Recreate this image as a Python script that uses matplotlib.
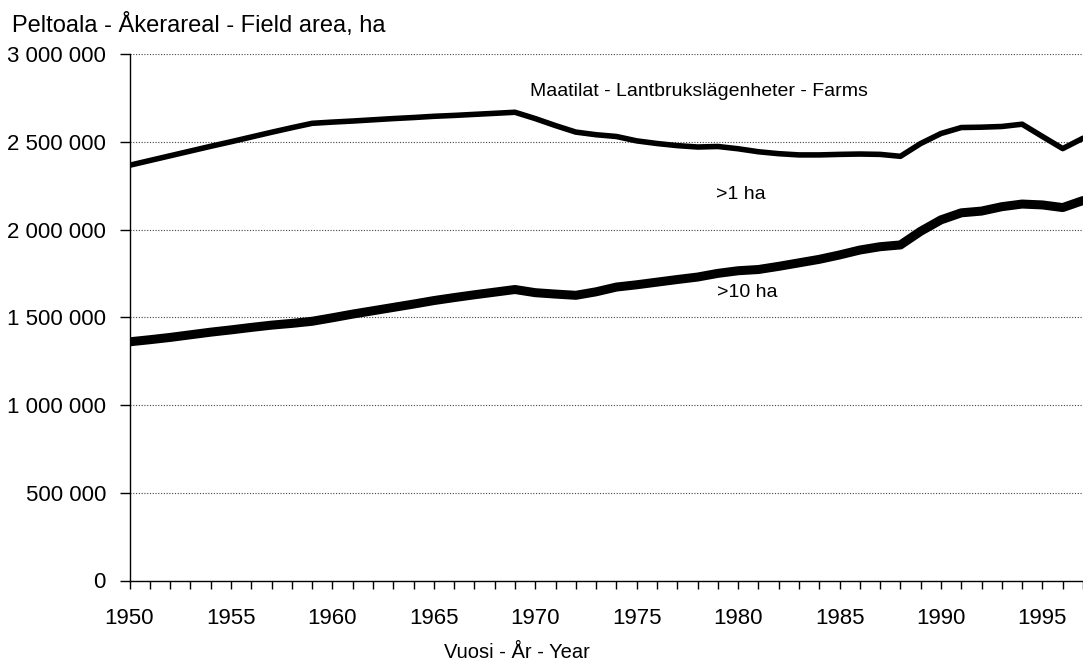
import matplotlib
matplotlib.use("Agg")
import matplotlib.pyplot as plt
from matplotlib.ticker import FuncFormatter, MultipleLocator
from matplotlib import font_manager

years = list(range(1950, 1998))

farms_1ha = [2366000, 2393000, 2420000, 2447000, 2474000, 2500000, 2527000, 2554000, 2580000, 2605000,
             2612000, 2618000, 2625000, 2632000, 2638000, 2645000, 2650000, 2656000, 2662000, 2668000,
             2632000, 2592000, 2555000, 2540000, 2530000, 2505000, 2490000, 2478000, 2470000, 2473000,
             2460000, 2443000, 2432000, 2425000, 2425000, 2428000, 2430000, 2428000, 2417000, 2490000,
             2547000, 2581000, 2583000, 2587000, 2600000, 2530000, 2461000, 2520000]

farms_10ha = [1360000, 1372000, 1385000, 1400000, 1415000, 1428000, 1442000, 1455000, 1465000, 1477000,
              1497000, 1518000, 1537000, 1556000, 1575000, 1595000, 1612000, 1628000, 1643000, 1658000,
              1640000, 1632000, 1625000, 1645000, 1672000, 1685000, 1700000, 1715000, 1729000, 1750000,
              1765000, 1772000, 1790000, 1810000, 1830000, 1855000, 1883000, 1902000, 1912000, 1990000,
              2055000, 2095000, 2105000, 2130000, 2145000, 2140000, 2125000, 2165000]

title_text = "Peltoala - Åkerareal - Field area, ha"
xlabel_text = "Vuosi - År - Year"
farms_label = "Maatilat - Lantbrukslägenheter - Farms"
label_1ha = ">1 ha"
label_10ha = ">10 ha"
xtick_years = [1950, 1955, 1960, 1965, 1970, 1975, 1980, 1985, 1990, 1995]

avail = {f.name for f in font_manager.fontManager.ttflist}
narrow = "Liberation Sans Narrow" in avail
fam = "Liberation Sans Narrow" if narrow else "Liberation Sans"
plt.rcParams['font.family'] = [fam, 'DejaVu Sans']
k = 1.15 if narrow else 1.0

W, H = 1083, 665
fig = plt.figure(figsize=(W / 100, H / 100), dpi=100)
left, right, top, bottom = 129.5, 1083, 54, 580.5
ax = fig.add_axes([left / W, 1 - bottom / H, (right - left) / W, (bottom - top) / H])

ax.plot(years, farms_1ha, color='black', lw=4.0, solid_joinstyle='round', solid_capstyle='round', zorder=3)
ax.plot(years, farms_10ha, color='black', lw=6.5, solid_joinstyle='round', solid_capstyle='round', zorder=3)

ax.set_xlim(1950, 1950 + (right - left) / 20.35)
ax.set_ylim(0, 3000000)

ax.yaxis.set_major_locator(MultipleLocator(500000))
ax.yaxis.set_major_formatter(FuncFormatter(lambda v, p: f"{int(v):,}".replace(",", " ")))
ax.set_xticks(xtick_years)
ax.set_xticklabels([str(y) for y in xtick_years])
ax.set_xticks(years, minor=True)

ax.grid(axis='y', linestyle=(0, (1, 1.5)), color='#444444', lw=0.8, zorder=1)
for s in ['top', 'right']:
    ax.spines[s].set_visible(False)
ax.spines['left'].set_linewidth(1.0)
ax.spines['bottom'].set_linewidth(1.0)

ax.tick_params(axis='y', direction='out', length=7, width=1, pad=10, labelsize=16 * k)
ax.tick_params(axis='x', which='both', direction='out', length=6, width=1)
ax.tick_params(axis='x', which='major', pad=14, labelsize=16 * k)

fig.text(12 / W, 1 - 25 / H, title_text, fontsize=17 * k, ha='left', va='center')
fig.text(517 / W, 1 - 653 / H, xlabel_text, fontsize=14.5 * k, ha='center', va='center')
fig.text(699 / W, 1 - 92 / H, farms_label, fontsize=14 * k, ha='center', va='center')
fig.text(741 / W, 1 - 194 / H, label_1ha, fontsize=14 * k, ha='center', va='center')
fig.text(747 / W, 1 - 292 / H, label_10ha, fontsize=14 * k, ha='center', va='center')

fig.savefig("out.png", dpi=100)
